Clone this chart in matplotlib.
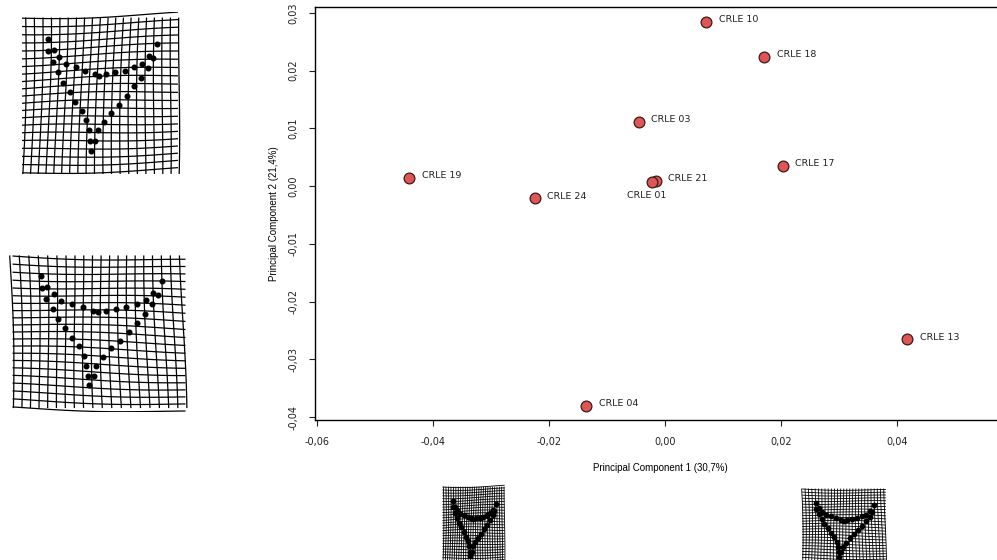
import numpy as np
import matplotlib
matplotlib.use("Agg")
import matplotlib.pyplot as plt

# PCA scores
specimens = ["CRLE 10", "CRLE 18", "CRLE 03", "CRLE 17", "CRLE 21",
             "CRLE 01", "CRLE 19", "CRLE 24", "CRLE 13", "CRLE 04"]
pc1 = [0.0071, 0.0171, -0.0045, 0.0203, -0.0016, -0.0022, -0.0441, -0.0224, 0.0417, -0.0136]
pc2 = [0.0284, 0.0224, 0.0111, 0.0035, 0.0009, 0.0007, 0.0014, -0.0021, -0.0265, -0.0380]

xticks = [-0.06, -0.04, -0.02, 0.00, 0.02, 0.04]
xticklabels = ["-0,06", "-0,04", "-0,02", "0,00", "0,02", "0,04"]
yticks = [-0.04, -0.03, -0.02, -0.01, 0.00, 0.01, 0.02, 0.03]
yticklabels = ["-0,04", "-0,03", "-0,02", "-0,01", "0,00", "0,01", "0,02", "0,03"]

# landmark configuration used in the deformation grid thumbnails (relative to grid box)
lm_u = [0.163, 0.167, 0.200, 0.235, 0.194, 0.280, 0.231, 0.343, 0.406, 0.465, 0.496, 0.541,
        0.598, 0.659, 0.720, 0.771, 0.810, 0.816, 0.841, 0.867, 0.765, 0.720, 0.673, 0.622,
        0.571, 0.524, 0.484, 0.469, 0.435, 0.427, 0.410, 0.384, 0.341, 0.304, 0.263, 0.439]
lm_v = [0.131, 0.212, 0.206, 0.253, 0.283, 0.295, 0.349, 0.315, 0.339, 0.360, 0.372, 0.360,
        0.349, 0.339, 0.315, 0.293, 0.319, 0.246, 0.259, 0.166, 0.384, 0.440, 0.499, 0.558,
        0.610, 0.667, 0.723, 0.792, 0.792, 0.723, 0.659, 0.596, 0.539, 0.477, 0.416, 0.853]

W, H = 997, 560
fig = plt.figure(figsize=(W / 100, H / 100), dpi=100)


def thumb(x0, y0, x1, y1, ncol, nrow, skew, lw, ms, vscale=1.0, voff=0.0):
    ax = fig.add_axes([x0 / W, 1 - y1 / H, (x1 - x0) / W, (y1 - y0) / H])
    ax.set_xlim(-0.03, 1.03)
    ax.set_ylim(1.03, -0.04)
    ax.axis("off")
    t = np.linspace(0, 1, 60)
    for i in range(ncol + 1):
        u = i / ncol
        x = u + skew * (1 - t) * 0.02 + 0.012 * np.sin(3 * t + u * 5)
        ax.plot(x, t, color="black", lw=lw)
    for j in range(nrow + 1):
        v = j / nrow
        y = v - skew * 0.03 * t + 0.012 * np.sin(4 * t + v * 6)
        ax.plot(t, y, color="black", lw=lw)
    u = np.array(lm_u)
    v = np.array(lm_v) * vscale + voff
    ax.scatter(u, v, s=ms, color="black", zorder=3)


thumb(18, 12, 182, 178, 19, 20, 1.0, 0.9, 11)
thumb(8, 250, 190, 412, 19, 20, -1.0, 0.9, 11)
thumb(441, 484, 506, 566, 26, 28, 0.5, 0.6, 10, 1.0, 0.05)
thumb(800, 486, 888, 566, 26, 26, -0.5, 0.6, 10, 1.0, 0.05)

# main scatter
ax = fig.add_axes([315 / W, 1 - 420 / H, 1 - 315 / W, (420 - 7) / H])
ax.scatter(pc1, pc2, s=60, color="#e05555", edgecolors="#3a1a1a", linewidths=0.9, zorder=3)
for name, x, y in zip(specimens, pc1, pc2):
    if name == "CRLE 01":
        ax.annotate(name, (x, y), xytext=(-18, -10), textcoords="offset points",
                    fontsize=6.8, family="DejaVu Sans", color="#222222", va="center")
    else:
        ax.annotate(name, (x, y), xytext=(9, 1.5), textcoords="offset points",
                    fontsize=6.8, family="DejaVu Sans", color="#222222", va="center")

ax.set_xlim(-0.0603, 0.0572)
ax.set_ylim(-0.0405, 0.0310)
ax.set_xticks(xticks)
ax.set_xticklabels(xticklabels)
ax.set_yticks(yticks)
ax.set_yticklabels(yticklabels, rotation=90, va="center")
ax.tick_params(labelsize=7, length=4, width=0.8, colors="#222222", pad=8)
ax.spines["right"].set_visible(False)
for s in ["left", "top", "bottom"]:
    ax.spines[s].set_linewidth(1.0)
ax.set_xlabel("Principal Component 1 (30,7%)", fontsize=7, family="Liberation Sans")
ax.xaxis.set_label_coords((660 - 315) / (W - 315), -0.105)
ax.set_ylabel("Principal Component 2 (21,4%)", fontsize=7, family="Liberation Sans")
ax.yaxis.set_label_coords(-(315 - 279) / (W - 315), 0.5)

fig.savefig("out.png", dpi=100)
